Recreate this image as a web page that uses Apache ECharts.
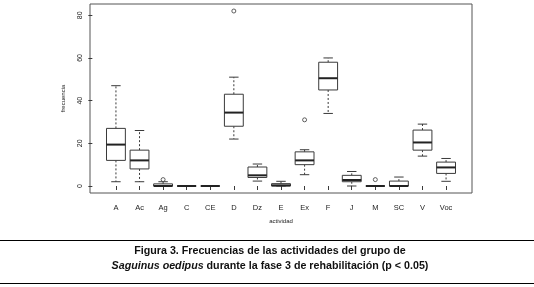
<!DOCTYPE html>
<html><head><meta charset="utf-8">
<script src="https://cdn.jsdelivr.net/npm/echarts@6/dist/echarts.min.js"></script>
<style>html,body{margin:0;padding:0;background:#fff}#c{width:534px;height:287px}</style>
</head><body><div id="c"></div>
<script>
const categories = ['A','Ac','Ag','C','CE','D','Dz','E','Ex','F','J','M','SC','V','Voc'];
const whiskerLow  = [2, 2, 0, 0, 0, 22, 2.3, 0, 5.3, 34, 0, 0, 0, 14, 2.2];
const q1          = [12, 8, 0, 0, 0, 28, 4, 0, 10, 45, 2, 0, 0, 16.8, 5.9];
const median      = [19.4, 12, 0, 0, 0, 34.4, 5, 0.3, 12, 50.5, 2.8, 0, 0, 20.4, 8.7];
const q3          = [27, 16.8, 1, 0, 0, 43, 8.9, 1.1, 16, 58, 5, 0, 2.3, 26.2, 11.2];
const whiskerHigh = [47, 26, 2, 0, 0, 51, 10.3, 2.2, 17, 60, 6.8, 0, 4.2, 29, 12.9];
const outlierCategory = ['Ag', 'D', 'Ex', 'M'];
const outlierValue = [3, 82, 31, 3];
const yTicks = [0, 20, 40, 60, 80];

const FONT = "'Liberation Sans', Arial, Helvetica, sans-serif";
const INK = '#3a3a3a';
const catPos = categories.map((c, i) => i + 1);
const boxData = categories.map((c, i) => [i + 1, whiskerLow[i], q1[i], median[i], q3[i], whiskerHigh[i]]);
const outData = outlierCategory.map((c, i) => [categories.indexOf(c) + 1, outlierValue[i]]);

function renderBox(params, api) {
  const x = api.value(0);
  const pLow = api.coord([x, api.value(1)]);
  const pQ1 = api.coord([x, api.value(2)]);
  const pMed = api.coord([x, api.value(3)]);
  const pQ3 = api.coord([x, api.value(4)]);
  const pHigh = api.coord([x, api.value(5)]);
  const bw = api.size([0.8, 0])[0];
  const cw = bw / 2;
  const cx = pMed[0];
  const solid = { stroke: INK, lineWidth: 1 };
  const dashed = { stroke: INK, lineWidth: 1, lineDash: [2, 2] };
  return { type: 'group', children: [
    { type: 'line', shape: { x1: cx, y1: pQ3[1], x2: cx, y2: pHigh[1] }, style: dashed },
    { type: 'line', shape: { x1: cx, y1: pQ1[1], x2: cx, y2: pLow[1] }, style: dashed },
    { type: 'line', shape: { x1: cx - cw / 2, y1: pHigh[1], x2: cx + cw / 2, y2: pHigh[1] }, style: solid },
    { type: 'line', shape: { x1: cx - cw / 2, y1: pLow[1], x2: cx + cw / 2, y2: pLow[1] }, style: solid },
    { type: 'rect', shape: { x: cx - bw / 2, y: pQ3[1], width: bw, height: pQ1[1] - pQ3[1] }, style: { fill: '#fff', stroke: INK, lineWidth: 1 } },
    { type: 'line', shape: { x1: cx - bw / 2, y1: pMed[1], x2: cx + bw / 2, y2: pMed[1] }, style: { stroke: '#222', lineWidth: 2 } }
  ]};
}

const chart = echarts.init(document.getElementById('c'), null, { renderer: 'canvas' });
chart.setOption({
  animation: false,
  backgroundColor: '#fff',
  grid: { left: 90, right: 62, top: 4, bottom: 94, show: true, borderColor: '#555', borderWidth: 1, containLabel: false },
  xAxis: {
    type: 'value', min: -0.1, max: 16.1,
    axisLine: { show: false }, splitLine: { show: false },
    axisTick: { show: true, length: 4, customValues: catPos, lineStyle: { color: INK } },
    axisLabel: { customValues: catPos, formatter: v => categories[Math.round(v) - 1] || '', fontSize: 7.5, margin: 11, color: '#222', fontFamily: FONT },
    name: 'actividad', nameLocation: 'middle', nameGap: 25,
    nameTextStyle: { fontSize: 6, color: '#222', fontFamily: FONT }
  },
  yAxis: {
    type: 'value', min: -3.28, max: 85.28,
    axisLine: { show: false }, splitLine: { show: false },
    axisTick: { show: true, length: 4, customValues: yTicks, lineStyle: { color: INK } },
    axisLabel: { customValues: yTicks, rotate: 90, fontSize: 7, margin: 6, color: '#222', fontFamily: FONT },
    name: 'frecuencia', nameLocation: 'middle', nameRotate: 90, nameGap: 24,
    nameTextStyle: { fontSize: 6, color: '#222', fontFamily: FONT }
  },
  series: [
    { type: 'custom', renderItem: renderBox, data: boxData, encode: { x: 0, y: [1, 2, 3, 4, 5] }, clip: false },
    { type: 'scatter', data: outData, symbol: 'circle', symbolSize: 4,
      itemStyle: { color: '#fff', borderColor: INK, borderWidth: 1 } }
  ],
  graphic: [
    { type: 'line', shape: { x1: 0, y1: 240.5, x2: 534, y2: 240.5 }, style: { stroke: '#000', lineWidth: 1 } },
    { type: 'text', x: 270, y: 251, style: { text: 'Figura 3. Frecuencias de las actividades del grupo de', textAlign: 'center', textVerticalAlign: 'middle', font: 'bold 10.7px ' + FONT, fill: '#111' } },
    { type: 'text', x: 270, y: 266, style: {
        text: '{i|Saguinus oedipus}{b| durante la fase 3 de rehabilitación (p < 0.05)}',
        textAlign: 'center', textVerticalAlign: 'middle',
        rich: { i: { fontStyle: 'italic', fontWeight: 'bold', fontSize: 10.7, fontFamily: FONT, fill: '#111' },
                b: { fontWeight: 'bold', fontSize: 10.7, fontFamily: FONT, fill: '#111' } } } },
    { type: 'line', shape: { x1: 0, y1: 283.5, x2: 534, y2: 283.5 }, style: { stroke: '#000', lineWidth: 1 } }
  ]
});
</script></body></html>
